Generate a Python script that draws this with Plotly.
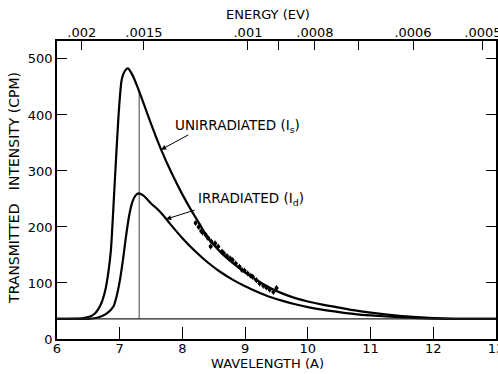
import math
import plotly.graph_objects as go

# Unirradiated curve (I_s)
wl_s = [6.0, 6.4, 6.5, 6.6, 6.7, 6.77, 6.82, 6.86, 6.92, 6.98, 7.03, 7.08, 7.13, 7.2, 7.28,
        7.39, 7.5, 7.66, 7.82, 7.99, 8.16, 8.27, 8.4, 8.6, 8.8, 9.0, 9.2, 9.4, 9.6, 9.8,
        10.0, 10.25, 10.5, 10.75, 11.0, 11.5, 12.0, 12.5, 13.0]
int_s = [36, 37, 39, 45, 62, 87, 120, 159, 278, 397, 462, 478, 483, 472, 451,
         418, 384, 338, 298, 260, 226, 206, 182, 156, 136, 119, 104, 91, 81, 73,
         67, 61, 56, 51, 47, 41, 37.5, 36, 36]

# Irradiated curve (I_d)
wl_d = [6.0, 6.5, 6.6, 6.7, 6.8, 6.9, 6.95, 7.0, 7.05, 7.1, 7.15, 7.2, 7.25, 7.3, 7.35,
        7.4, 7.5, 7.6, 7.7, 7.8, 8.0, 8.2, 8.4, 8.6, 8.8, 9.0, 9.2, 9.4, 9.6, 9.8,
        10.0, 10.25, 10.5, 10.75, 11.0, 11.5, 12.0, 13.0]
int_d = [36, 36, 37, 40, 46, 58, 76, 103, 140, 183, 220, 244, 256, 260, 258,
         254, 242, 232, 220, 206, 180, 157, 137, 120, 106, 94, 84, 75, 68, 62,
         57, 52, 48, 44.5, 42, 38.5, 36.5, 36]

# Measured points
dot_wl = [8.21, 8.26, 8.30, 8.32, 8.37, 8.41, 8.45, 8.46, 8.52, 8.57, 8.63, 8.66, 8.71,
          8.76, 8.80, 8.85, 8.91, 8.95, 8.99, 9.04, 9.09, 9.12, 9.18, 9.23, 9.29, 9.34,
          9.39, 9.45, 9.50]
dot_int = [207, 200, 193, 190, 186, 180, 165, 174, 171, 165, 156, 153, 148,
           144, 141, 135, 129, 123, 122, 117, 113, 111, 105, 99, 95, 92,
           88, 84, 91]
dot_err = [5] * len(dot_wl)

# Background level and peak marker
bg_wl = [6, 13]
bg_int = [36, 36]
marker_wl = [7.31, 7.31]
marker_int = [36, 444]

# Axis ticks
wl_ticks = [6, 7, 8, 9, 10, 11, 12, 13]
int_ticks = [0, 100, 200, 300, 400, 500]
energy_ticks = [0.002, 0.0015, 0.001, 0.0009, 0.0008, 0.0007, 0.0006, 0.0005]
energy_labels = [".002", ".0015", ".001", "", ".0008", "", ".0006", ".0005"]
energy_wl = [math.sqrt(0.08181 / e) for e in energy_ticks]

FONT = "DejaVu Sans"
fig = go.Figure()

fig.add_trace(go.Scatter(x=bg_wl, y=bg_int, mode="lines", xaxis="x2",
                         line=dict(color="#222", width=1.4), showlegend=False, hoverinfo="skip"))
fig.add_trace(go.Scatter(x=marker_wl, y=marker_int, mode="lines",
                         line=dict(color="#444", width=1), showlegend=False))
fig.add_trace(go.Scatter(x=wl_s, y=int_s, mode="lines",
                         line=dict(color="black", width=2.2, shape="spline", smoothing=0.6),
                         showlegend=False))
fig.add_trace(go.Scatter(x=wl_d, y=int_d, mode="lines",
                         line=dict(color="black", width=2.2, shape="spline", smoothing=0.6),
                         showlegend=False))
fig.add_trace(go.Scatter(x=dot_wl, y=dot_int, mode="markers",
                         marker=dict(color="black", size=4),
                         error_y=dict(type="data", array=dot_err, width=0, thickness=1, color="black"),
                         showlegend=False))

axis_common = dict(showgrid=False, zeroline=False, showline=True, linecolor="black",
                   linewidth=1.5, ticks="inside", tickcolor="black", tickwidth=1.2,
                   automargin=False, ticklabeloverflow="allow",
                   tickfont=dict(family=FONT, size=13, color="black"))

fig.update_layout(
    width=498, height=374,
    margin=dict(l=57, r=2, t=41, b=35, autoexpand=False),
    paper_bgcolor="white", plot_bgcolor="white",
    xaxis=dict(range=[6, 13], tickvals=wl_ticks, ticktext=[str(t) for t in wl_ticks],
               ticklen=12, ticklabelstandoff=-3, **axis_common),
    xaxis2=dict(range=[6, 13], overlaying="x", side="top", anchor="y",
                tickvals=energy_wl, ticktext=energy_labels, ticklen=9,
                ticklabelstandoff=-3, **axis_common),
    yaxis=dict(range=[0, 532], tickvals=int_ticks, ticklen=10, mirror="ticks", **axis_common),
    font=dict(family=FONT, color="black"),
)

ann = []
ann.append(dict(text="ENERGY (EV)", xref="paper", yref="paper", x=0.48, y=1.09,
                showarrow=False, font=dict(size=13), xanchor="center", yanchor="middle"))
ann.append(dict(text="WAVELENGTH (A)", xref="paper", yref="paper", x=0.48, y=-0.082,
                showarrow=False, font=dict(size=13), xanchor="center", yanchor="middle"))
ann.append(dict(text="TRANSMITTED&nbsp;&nbsp;&nbsp;INTENSITY (CPM)", xref="paper", yref="paper",
                x=-0.098, y=0.507, textangle=-90, showarrow=False, font=dict(size=14),
                xanchor="center", yanchor="middle"))
ann.append(dict(text="UNIRRADIATED (I<sub>s</sub>)", x=7.85, y=380, xref="x", yref="y",
                showarrow=False, font=dict(size=13.5), xanchor="left", yanchor="middle"))
ann.append(dict(text="", x=7.66, y=338, xref="x", yref="y", ax=8.12, ay=366,
                axref="x", ayref="y", showarrow=True, arrowhead=2, arrowsize=1,
                arrowwidth=1, arrowcolor="black"))
ann.append(dict(text="IRRADIATED (I<sub>d</sub>)", x=8.22, y=250, xref="x", yref="y",
                showarrow=False, font=dict(size=13.5), xanchor="left", yanchor="middle"))
ann.append(dict(text="", x=7.74, y=214, xref="x", yref="y", ax=8.22, ay=231,
                axref="x", ayref="y", showarrow=True, arrowhead=2, arrowsize=1,
                arrowwidth=1, arrowcolor="black"))
fig.update_layout(annotations=ann)

fig.write_html("out.html", config={"displayModeBar": False},
               post_script="document.body.style.margin='0';document.body.style.overflow='hidden';")
